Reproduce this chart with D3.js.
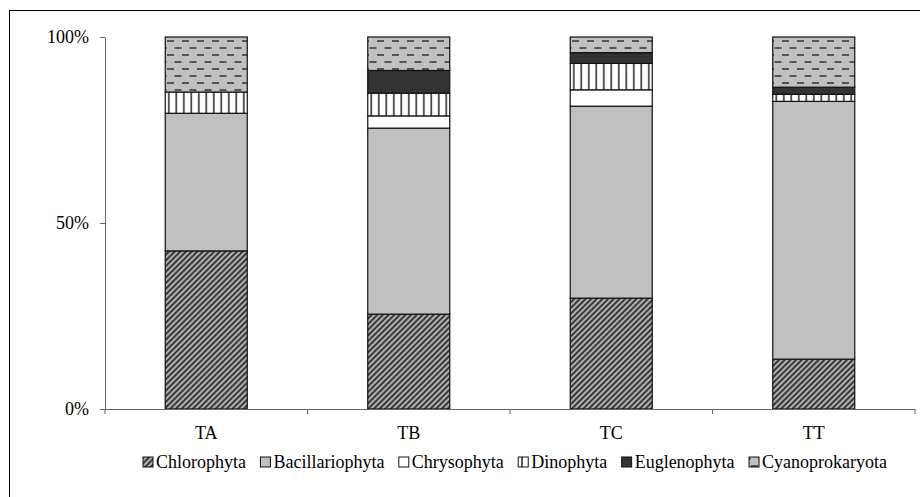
<!DOCTYPE html>
<html>
<head>
<meta charset="utf-8">
<script src="https://cdn.jsdelivr.net/npm/d3@7"></script>
<style>
  body { margin: 0; background: #fff; }
  svg { display: block; font-family: "Liberation Serif", "Times New Roman", serif; }
</style>
</head>
<body>
<div id="chart"></div>
<script>
// Data (percent share per site)
const categories = ['TA', 'TB', 'TC', 'TT'];
const groups = ['Chlorophyta', 'Bacillariophyta', 'Chrysophyta', 'Dinophyta', 'Euglenophyta', 'Cyanoprokaryota'];
const chlorophyta     = [42.5, 25.5, 29.8, 13.4];
const bacillariophyta = [37.0, 50.0, 51.6, 69.3];
const chrysophyta     = [0.0, 3.3, 4.4, 0.0];
const dinophyta       = [5.7, 6.1, 7.1, 1.9];
const euglenophyta    = [0.0, 6.1, 2.9, 1.9];
const cyanoprokaryota = [14.8, 9.0, 4.2, 13.5];
const yTicks = [0, 0.5, 1];

const series = [chlorophyta, bacillariophyta, chrysophyta, dinophyta, euglenophyta, cyanoprokaryota];
const rows = categories.map((c, i) => {
  const r = { site: c };
  groups.forEach((g, k) => { r[g] = series[k][i]; });
  return r;
});

const W = 920, H = 497;
const margin = { top: 37, right: 5, bottom: 88, left: 105 };
const FONT = '"Liberation Serif", "Times New Roman", serif';

const svg = d3.select('#chart').append('svg')
  .attr('width', W).attr('height', H);

// ----- patterns -----
const defs = svg.append('defs');

const pDiag = defs.append('pattern').attr('id', 'p-chl')
  .attr('patternUnits', 'userSpaceOnUse').attr('width', 4).attr('height', 4)
  .attr('patternTransform', 'rotate(45)');
pDiag.append('rect').attr('width', 4).attr('height', 4).attr('fill', '#b0b0b0');
pDiag.append('rect').attr('width', 2).attr('height', 4).attr('fill', '#383838');

const pDino = defs.append('pattern').attr('id', 'p-dino')
  .attr('patternUnits', 'userSpaceOnUse').attr('width', 7.5).attr('height', 10);
pDino.append('rect').attr('width', 7.5).attr('height', 10).attr('fill', '#fff');
pDino.append('rect').attr('x', 3).attr('width', 1.6).attr('height', 10).attr('fill', '#333');

const pCyan = defs.append('pattern').attr('id', 'p-cyan')
  .attr('patternUnits', 'userSpaceOnUse').attr('width', 15).attr('height', 14);
pCyan.append('rect').attr('width', 15).attr('height', 14).attr('fill', '#c0c0c0');
pCyan.append('rect').attr('x', 2).attr('y', 3).attr('width', 7).attr('height', 2).attr('fill', '#555');
pCyan.append('rect').attr('x', 9.5).attr('y', 10).attr('width', 7).attr('height', 2).attr('fill', '#555');
pCyan.append('rect').attr('x', -5.5).attr('y', 10).attr('width', 7).attr('height', 2).attr('fill', '#555');

const fills = {
  Chlorophyta: 'url(#p-chl)',
  Bacillariophyta: '#c0c0c0',
  Chrysophyta: '#ffffff',
  Dinophyta: 'url(#p-dino)',
  Euglenophyta: '#333333',
  Cyanoprokaryota: 'url(#p-cyan)'
};

// outer frame (runs off the picture to the right and bottom)
svg.append('rect')
  .attr('x', 9.5).attr('y', 10.5)
  .attr('width', 920).attr('height', 500)
  .attr('fill', 'none').attr('stroke', '#000').attr('stroke-width', 1);

const innerH = H - margin.top - margin.bottom;
const g = svg.append('g').attr('transform', `translate(${margin.left},${margin.top})`);

// Scales
const x = d3.scaleBand().domain(categories).range([0, 810]).padding(0);
const y = d3.scaleLinear().domain([0, 1]).range([innerH, 0]);
const barW = x.bandwidth() * 0.405;

const stacked = d3.stack().keys(groups).offset(d3.stackOffsetExpand)(rows);

// Bars
g.append('g').selectAll('g').data(stacked).join('g')
  .attr('fill', d => fills[d.key])
  .selectAll('rect').data(d => d).join('rect')
  .attr('x', d => x(d.data.site) + (x.bandwidth() - barW) / 2)
  .attr('y', d => y(d[1]))
  .attr('width', barW)
  .attr('height', d => y(d[0]) - y(d[1]))
  .attr('stroke', '#111')
  .attr('stroke-width', 1.2);

// Y axis
const gy = g.append('g')
  .call(d3.axisLeft(y).tickValues(yTicks).tickFormat(d3.format('.0%'))
    .tickSize(5).tickSizeOuter(0).tickPadding(11));
gy.selectAll('path, line').attr('stroke', '#666');
gy.selectAll('text').attr('font-family', FONT).attr('font-size', 18).attr('fill', '#000');

// X axis (labels centred, ticks at category boundaries)
const gx = g.append('g').attr('transform', `translate(0,${innerH})`)
  .call(d3.axisBottom(x).tickSize(0).tickSizeOuter(0).tickPadding(17));
gx.select('.domain').attr('stroke', '#666');
gx.selectAll('text').attr('font-family', FONT).attr('font-size', 18).attr('fill', '#000');
const bounds = categories.map(c => x(c)).concat([x.range()[1]]);
gx.selectAll('line.bound').data(bounds).join('line')
  .attr('class', 'bound')
  .attr('x1', d => d).attr('x2', d => d)
  .attr('y1', 0).attr('y2', 5)
  .attr('stroke', '#666');

// Legend
const legend = svg.append('g').attr('transform', 'translate(0,462)');
const items = legend.selectAll('g').data(groups).join('g');
items.append('rect')
  .attr('x', 0).attr('y', -5).attr('width', 10).attr('height', 10)
  .attr('fill', d => fills[d]).attr('stroke', '#111').attr('stroke-width', 1);
items.append('text')
  .attr('x', 13).attr('y', 6)
  .attr('font-family', FONT)
  .attr('font-size', 18)
  .text(d => d);
const widths = [];
items.each(function () { widths.push(13 + d3.select(this).select('text').node().getComputedTextLength()); });
const startX = 143, endX = 887;
const gap = (endX - startX - d3.sum(widths)) / (groups.length - 1);
let cx = startX;
items.attr('transform', (d, i) => { const t = `translate(${cx},0)`; cx += widths[i] + gap; return t; });
</script>
</body>
</html>
